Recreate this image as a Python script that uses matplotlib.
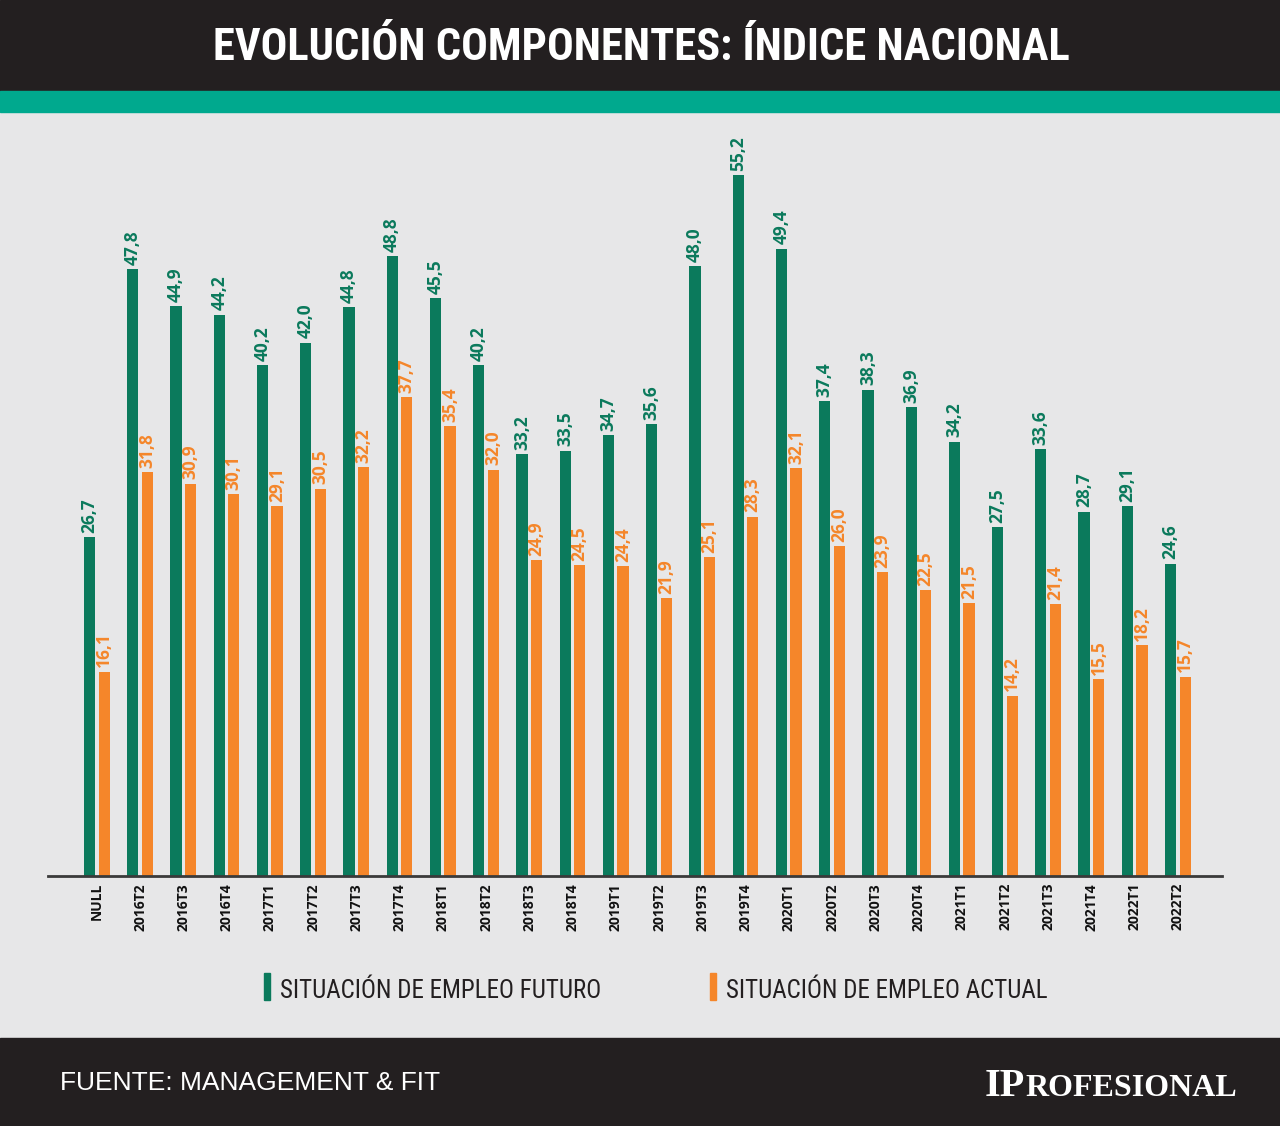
import matplotlib.pyplot as plt
from matplotlib.patches import Rectangle

categorias = ['NULL', '2016T2', '2016T3', '2016T4', '2017T1', '2017T2', '2017T3', '2017T4',
              '2018T1', '2018T2', '2018T3', '2018T4', '2019T1', '2019T2', '2019T3', '2019T4',
              '2020T1', '2020T2', '2020T3', '2020T4', '2021T1', '2021T2', '2021T3', '2021T4',
              '2022T1', '2022T2']
futuro = [26.7, 47.8, 44.9, 44.2, 40.2, 42.0, 44.8, 48.8, 45.5, 40.2, 33.2, 33.5, 34.7,
          35.6, 48.0, 55.2, 49.4, 37.4, 38.3, 36.9, 34.2, 27.5, 33.6, 28.7, 29.1, 24.6]
actual = [16.1, 31.8, 30.9, 30.1, 29.1, 30.5, 32.2, 37.7, 35.4, 32.0, 24.9, 24.5, 24.4,
          21.9, 25.1, 28.3, 32.1, 26.0, 23.9, 22.5, 21.5, 14.2, 21.4, 15.5, 18.2, 15.7]

VERDE = '#0b7a5c'
NARANJA = '#f5862a'
FONDO = '#e7e7e8'
OSCURO = '#231f20'
TEAL = '#00a98e'
ESTRECHA = ['Roboto Condensed', 'Roboto']

W, H = 1280, 1126
fig = plt.figure(figsize=(W / 100, H / 100), dpi=100, facecolor=FONDO)

# bandas de cabecera y pie
bg = fig.add_axes([0, 0, 1, 1])
bg.set_xlim(0, W)
bg.set_ylim(H, 0)
bg.axis('off')
bg.add_patch(Rectangle((0, 0), W, 91, color=OSCURO))
bg.add_patch(Rectangle((0, 91), W, 21, color=TEAL))
bg.add_patch(Rectangle((0, 1038), W, 88, color=OSCURO))

bg.text(641, 48, 'EVOLUCIÓN COMPONENTES: ÍNDICE NACIONAL', color='white', fontsize=32,
        fontweight='bold', family=ESTRECHA, ha='center', va='center')

# leyenda
bg.add_patch(Rectangle((264, 973), 6, 27, color=VERDE))
bg.text(280, 991, 'SITUACIÓN DE EMPLEO FUTURO', color='#231f20', fontsize=18,
        family=ESTRECHA, ha='left', va='center')
bg.add_patch(Rectangle((710, 973), 6, 27, color=NARANJA))
bg.text(726, 991, 'SITUACIÓN DE EMPLEO ACTUAL', color='#231f20', fontsize=18,
        family=ESTRECHA, ha='left', va='center')

bg.text(60, 1083, 'FUENTE: MANAGEMENT & FIT', color='white', fontsize=19,
        family='Liberation Sans', ha='left', va='center')

# logo en versalitas: "IP" grande y el resto mas chico
resto = bg.text(1237, 1096, 'ROFESIONAL', color='white', fontsize=23, fontweight='bold',
                family='Liberation Serif', ha='right', va='baseline')
fig.canvas.draw()
ext = resto.get_window_extent()
bg.text(ext.x0, 1096, 'IP', color='white', fontsize=29, fontweight='bold',
        family='Liberation Serif', ha='right', va='baseline')

# grafico de barras
px = 43.24
x0 = -(97 - 48) / px
x1 = (1222 - 97) / px
ytop = (876 - 130) / 12.7
ax = fig.add_axes([48 / W, 250 / H, 1174 / W, 746 / H])
ax.set_facecolor('none')
ax.set_xlim(x0, x1)
ax.set_ylim(0, ytop)

pos = list(range(len(categorias)))
ancho = 0.26
ax.bar([p - 0.172 for p in pos], futuro, width=ancho, color=VERDE, zorder=2)
ax.bar([p + 0.165 for p in pos], actual, width=ancho, color=NARANJA, zorder=2)

for p, v in zip(pos, futuro):
    ax.annotate(f'{v:.1f}'.replace('.', ','), xy=(p - 0.172, v), xytext=(0, 3),
                textcoords='offset points', rotation=90, ha='center', va='bottom',
                color=VERDE, fontsize=12.5, fontweight='bold', family='Open Sans')
for p, v in zip(pos, actual):
    ax.annotate(f'{v:.1f}'.replace('.', ','), xy=(p + 0.165, v), xytext=(0, 3),
                textcoords='offset points', rotation=90, ha='center', va='bottom',
                color=NARANJA, fontsize=12.5, fontweight='bold', family='Open Sans')

ax.set_xticks(pos)
ax.set_xticklabels(categorias, rotation=90, fontsize=10, fontweight='bold',
                   family='Open Sans', color='#111111')
ax.tick_params(axis='x', length=0, pad=5)
ax.set_yticks([])
for s in ['top', 'right', 'left']:
    ax.spines[s].set_visible(False)
ax.spines['bottom'].set_color('#3a3a3a')
ax.spines['bottom'].set_linewidth(2)

fig.savefig('out.png', dpi=100, facecolor=FONDO)
